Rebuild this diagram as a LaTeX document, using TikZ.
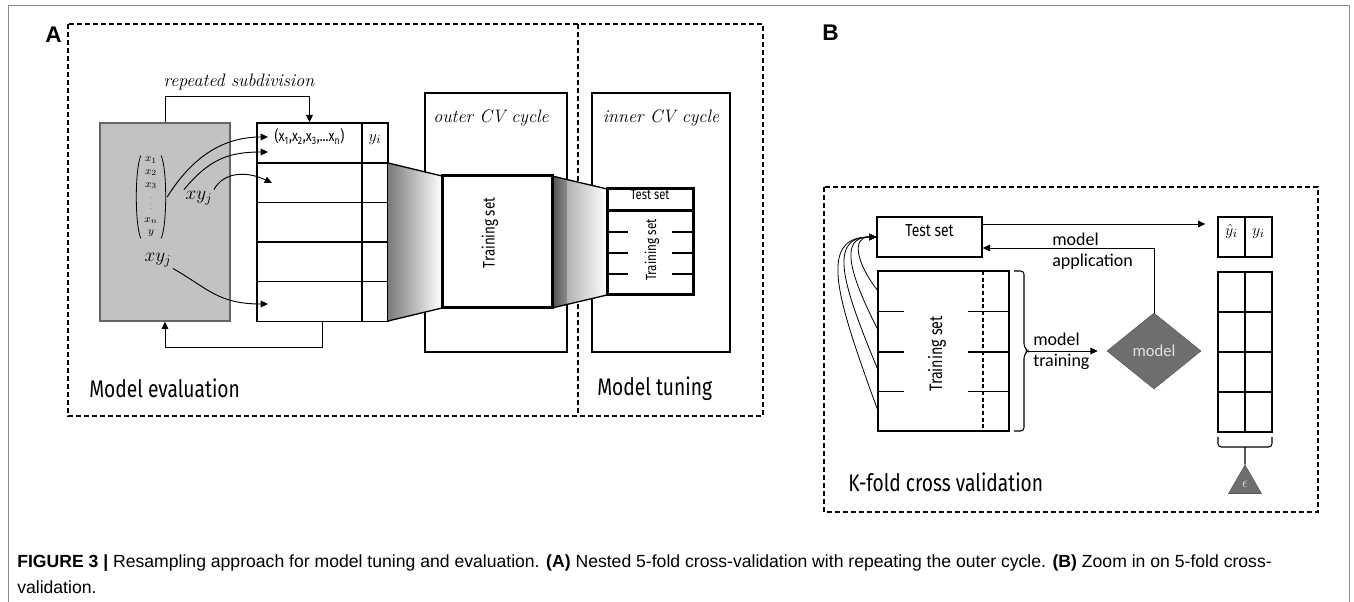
\documentclass[tikz,border=0pt]{standalone}
\usepackage{fontspec}
\usepackage{amsmath}
\usetikzlibrary{fit,arrows.meta,shapes.geometric}
\newfontfamily\condfont[FakeStretch=0.8]{Fira Sans}
\newfontfamily\calfont{Carlito}
\newfontfamily\capfont{Liberation Sans}
\definecolor{boxgray}{HTML}{C2C2C2}
\definecolor{modelgray}{HTML}{6E6E6E}
\definecolor{framegray}{HTML}{8A8A8A}
\newcommand\rowH{39.6}
\newcommand\gridH{40}
\newcommand\tinydots{{\fontsize{5}{5}\selectfont$\vdots$}}
\tikzset{
	cell/.style={draw, line width=1pt, inner sep=0pt},
	thickcell/.style={draw, line width=2.25pt, inner sep=0pt, fill=white},
	dashbox/.style={line width=1.2pt, dash pattern=on 3.75pt off 2.25pt},
	arr/.style={-{Triangle[length=5.5pt,width=5pt]}, line width=0.7pt},
	bracket/.style={line width=0.8pt, rounded corners=2.5pt},
	paren/.style={line width=0.6pt},
	paneltitle/.style={font=\capfont\bfseries\fontsize{17}{20}\selectfont, anchor=west, inner sep=0pt},
	partlabel/.style={font=\condfont\fontsize{18}{21}\selectfont, anchor=west, inner sep=0pt},
	cyc/.style={font=\itshape\fontsize{13.5}{16}\selectfont},
	mathlbl/.style={font=\fontsize{14}{16}\selectfont, inner sep=1pt},
	setlbl/.style={font=\condfont\fontsize{#1}{12}\selectfont, inner sep=0pt},
	callbl/.style={font=\calfont\fontsize{13.5}{15.5}\selectfont, align=left, anchor=west, inner sep=0pt},
	caption/.style={font=\capfont\fontsize{13.2}{15}\selectfont, anchor=west, inner sep=0pt}
}
\begin{document}
\begin{tikzpicture}[x=0.75pt,y=-0.75pt]
	\useasboundingbox (0,0) rectangle (1354,602);
	\draw[framegray, line width=0.75pt] (8,602) -- (8,6) -- (1349,6) -- (1349,602);
	
	% panel A
	\node[paneltitle] (labA) at (45,35) {A};
	\draw[dashbox] (68,24) rectangle (763,416);
	\draw[dashbox] (578,24) -- (578,416);
	\node[partlabel] (evalLbl) at (89,388) {Model evaluation};
	\node[partlabel] (tuneLbl) at (597,389) {Model tuning};
	
	\node[cell, fit={(425,93) (567,352)}] (outerCV) {};
	\node[cell, fit={(592,93) (730,352)}] (innerCV) {};
	\node[cyc] (outerLbl) at (491,118) {outer CV cycle};
	\node[cyc] (innerLbl) at (661,118) {inner CV cycle};
	
	\node[cell, fill=boxgray, draw=black!60, fit={(100,123) (230,321)}] (data) {};
	\node[align=center, font=\fontsize{8}{9.5}\selectfont, inner sep=1pt] (vec) at (151,197)
		{$x_1$\\$x_2$\\$x_3$\\\tinydots\\$x_n$\\$y$};
	\draw[paren] ([xshift=-1.5pt]vec.north west) .. controls +(-6,14) and +(-6,-14) .. ([xshift=-1.5pt]vec.south west);
	\draw[paren] ([xshift=1.5pt]vec.north east) .. controls +(6,14) and +(6,-14) .. ([xshift=1.5pt]vec.south east);
	\node[mathlbl] (xyA) at (199,198) {$xy_j$};
	\node[mathlbl] (xyB) at (158,260) {$xy_j$};
	
	\node[inner sep=0pt, fit={(257,123) (388,321)}] (tab) {};
	\node[cell, fit={(257,123) (362,163)}, font=\condfont\fontsize{11.5}{13}\selectfont] (hdrX)
		{(x\textsubscript{1},x\textsubscript{2},x\textsubscript{3},...x\textsubscript{n})};
	\node[cell, fit={(362,123) (388,163)}, font=\fontsize{13}{15}\selectfont] (hdrY) {$y_i$};
	\foreach \i in {1,...,4}{
		\node[cell, fit={(257,123+\i*\rowH) (362,163+\i*\rowH)}] (rowX\i) {};
		\node[cell, fit={(362,123+\i*\rowH) (388,163+\i*\rowH)}] (rowY\i) {};
	}
	
	\node[cyc] (subLbl) at (239,82) {repeated subdivision};
	\draw[arr] (data.north) -- ++(0,-26) -| (hdrX.north);
	\draw[arr] (tab.south) -- ++(0,26) -| (data.south);
	
	\coordinate (in1) at (268,137);
	\coordinate (in2) at (268,152);
	\coordinate (in3) at (272,183);
	\coordinate (in4) at (268,304);
	\draw[arr] ([xshift=6pt]vec.east) .. controls +(28,-45) and +(-40,0) .. (in1);
	\draw[arr] (xyA.north west) .. controls +(25,-30) and +(-40,0) .. (in2);
	\draw[arr] (xyA.north east) .. controls +(10,-18) and +(-25,-12) .. (in3);
	\draw[arr] (xyB.south east) .. controls +(35,20) and +(-50,0) .. (in4);
	
	% funnels
	\shade[left color=black!52, right color=white] (388,163) -- (442,176) -- (442,308) -- (388,321) -- cycle;
	\draw[line width=1pt] (388,163) -- (442,176) (388,321) -- (442,308);
	\shade[left color=black!68, right color=black!45] (552,176) -- (567,179.5) -- (567,304.5) -- (552,308) -- cycle;
	\shade[left color=black!30, right color=white] (567,179.5) -- (607,189) -- (607,295) -- (567,304.5) -- cycle;
	\draw[line width=1pt] (552,176) -- (607,189) (552,308) -- (607,295);
	
	\node[thickcell, fit={(442,176) (552,308)}] (trainBig) {};
	\node[setlbl=12.5, rotate=90] (trainBigLbl) at (490,233) {Training set};
	
	\node[thickcell, fit={(607,189) (693,295)}] (innerSet) {};
	\node[thickcell, fit={(607,189) (693,211)}, setlbl=10.5] (innerTest) {Test set};
	\foreach \y in {232,253,274}{
		\draw[line width=1.5pt] (607,\y) -- (628,\y) (672,\y) -- (693,\y);
	}
	\node[setlbl=11, rotate=90] (innerTrainLbl) at (652,250) {Training set};
	
	% panel B
	\node[paneltitle] (labB) at (822,33) {B};
	\draw[dashbox] (824,187) rectangle (1318,512);
	\node[partlabel] (kfoldLbl) at (848,482) {K-fold cross validation};
	
	\node[cell, fit={(877,217) (982,257)}, setlbl=13] (testB) {Test set};
	\node[cell, fit={(878,271) (1009,431)}] (trainB) {};
	\draw[line width=1pt, dash pattern=on 3pt off 2pt] (983,271) -- (983,431);
	\foreach \y in {311.5,352,391.5}{
		\draw[line width=1pt] (878,\y) -- (904,\y) (968,\y) -- (1009,\y);
	}
	\node[setlbl=13.5, rotate=90] (trainBLbl) at (937,354) {Training set};
	
	\foreach \r/\y/\dx/\dy/\cx in {1/291/22/28/25, 2/330/28/55/38, 3/370/34/82/50, 4/411/40/110/60}{
		\coordinate (fold\r) at (878,\y);
		\draw[arr, line width=0.6pt] (fold\r) .. controls +(-\dx,-\dy) and +(-\cx,0) .. (testB.west);
	}
	
	\draw[bracket] (1014,271) -- (1024,271) -- (1024,347) -- (1028,351) -- (1024,355) -- (1024,431) -- (1014,431);
	\coordinate (trBrace) at (1028,351);
	\node[diamond, fill=modelgray, draw=modelgray!80!black, minimum width=70.5pt, minimum height=57pt,
		inner sep=0pt, font=\calfont\fontsize{12.5}{14}\selectfont, text=black!12] (model) at (1154,351) {model};
	\draw[arr, shorten >=6.75pt] (trBrace) -- (model.west);
	\node[callbl] (trainTxt) at (1033,351) {model\\training};
	
	\node[cell, fit={(1218,217) (1245,257)}, font=\fontsize{13}{15}\selectfont] (yhat) {$\hat{y}_i$};
	\node[cell, fit={(1245,217) (1272,257)}, font=\fontsize{13}{15}\selectfont] (ytrue) {$y_i$};
	\draw[arr, shorten >=9pt] ([yshift=9.75pt]testB.east) -- ([yshift=9.75pt]yhat.west);
	\draw[arr] (model.north) |- ([yshift=-8.25pt]testB.east);
	\node[callbl] (applyTxt) at (1052,251) {model\\application};
	
	\foreach \i in {0,...,3}{
		\node[cell, fit={(1218,272+\i*\gridH) (1245,312+\i*\gridH)}] (errL\i) {};
		\node[cell, fit={(1245,272+\i*\gridH) (1272,312+\i*\gridH)}] (errR\i) {};
	}
	\node[regular polygon, regular polygon sides=3, minimum size=28.5pt, inner sep=0pt,
		fill=modelgray, draw=modelgray!80!black, text=black!12, font=\fontsize{11}{13}\selectfont] (eps) at (1245,484) {$\epsilon$};
	\draw[bracket] (1218,437) -- (1218,447) -- (1272,447) -- (1272,437);
	\coordinate (errBrace) at (1245,447);
	\draw[line width=0.8pt] (errBrace) -- (eps.north);
	
	% caption
	\node[caption] (cap1) at (17,563) {\textbf{FIGURE 3 |} Resampling approach for model tuning and evaluation. \textbf{(A)} Nested 5-fold cross-validation with repeating the outer cycle. \textbf{(B)} Zoom in on 5-fold cross-};
	\node[caption] (cap2) at (17,587) {validation.};
\end{tikzpicture}
\end{document}
